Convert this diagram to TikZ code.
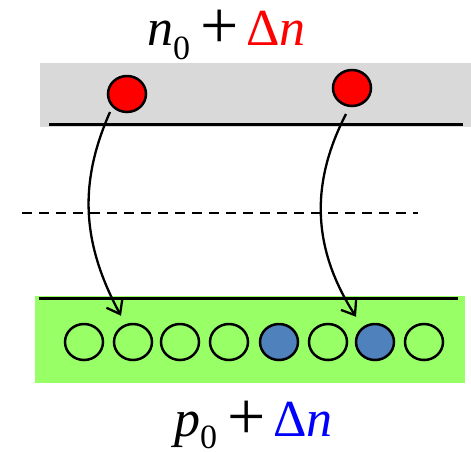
\documentclass[tikz,border=0pt]{standalone}
\usepackage{fontspec}
\setmainfont{Liberation Serif}
\usetikzlibrary{arrows.meta,calc,shapes.geometric}
\definecolor{bandgray}{HTML}{D9D9D9}
\definecolor{bandgreen}{HTML}{99FF66}
\definecolor{holeblue}{HTML}{4F81BD}
\newcommand{\bigplus}{{\fontsize{68}{68}\selectfont\raisebox{-3pt}{+}}}
\tikzset{
  elec/.style={ellipse, draw=black, line width=2.5pt, fill=red, minimum width=38pt, minimum height=36pt, inner sep=0pt},
  site/.style={ellipse, draw=black, line width=2.5pt, minimum width=38pt, minimum height=36pt, inner sep=0pt},
  filled/.style={fill=holeblue},
  edge/.style={line width=3pt},
  trans/.style={line width=2.3pt, -{Straight Barb[length=12pt,width=18pt,line width=2.3pt]}},
  lbl/.style={inner sep=0pt, anchor=base west, font=\fontsize{52}{60}\selectfont}
}
\begin{document}
\begin{tikzpicture}[x=1pt,y=-1pt]
\useasboundingbox (0,0) rectangle (471,451);
% bands
\fill[bandgray] (40,63) rectangle (471,127);
\fill[bandgreen] (35,296) rectangle (465,383);
\draw[edge] (49,124) -- (463,124);
\draw[edge] (39,298) -- (458,298);
\draw[line width=2.2pt, dash pattern=on 10pt off 7pt] (22,213) -- (418,213);
% electrons
\node[elec] (e1) at (127,94) {};
\node[elec] (e2) at (352,88) {};
% sites
\foreach \i/\x in {1/84,2/133,3/180,4/229,6/328,8/424}
  \node[site] (h\i) at (\x,342) {};
\node[site,filled] (h5) at (279,342) {};
\node[site,filled] (h7) at (375,342) {};
% transitions
\draw[trans] ($(e1)+(-17,18)$) .. controls (80,180) and (80,240) .. ($(h2.north)+(-12,-7)$);
\draw[trans] ($(e2)+(-6,26)$) .. controls (312,180) and (310,245) .. ($(h7.north)+(-19,-6)$);
% labels
\node[lbl] (top) at (147,45) {\textit{n}\raisebox{-14pt}{\fontsize{34}{34}\selectfont 0}\hspace{10pt}\bigplus\hspace{8pt}{\color{red}Δ\textit{n}}};
\node[lbl] (bot) at (174,436) {\textit{p}\raisebox{-12pt}{\fontsize{34}{34}\selectfont 0}\hspace{10pt}\bigplus\hspace{8pt}{\color{blue}Δ\textit{n}}};
\end{tikzpicture}
\end{document}
